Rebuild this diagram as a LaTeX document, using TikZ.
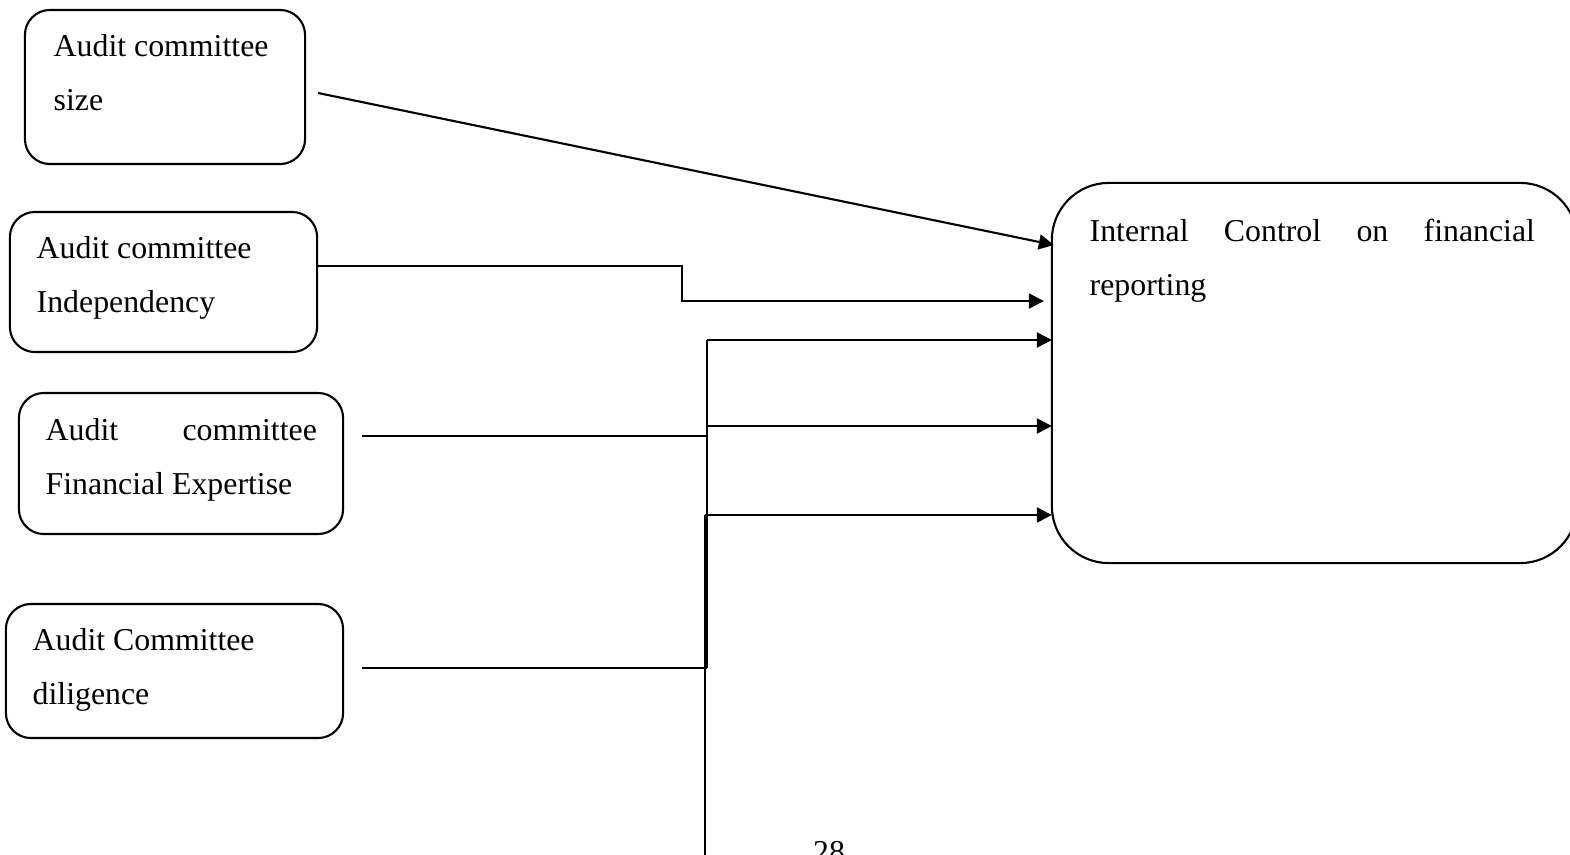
\documentclass[tikz,border=0pt]{standalone}
\usepackage{fontspec}
\setmainfont{Liberation Serif}
\usetikzlibrary{arrows.meta,calc}

\newcommand{\boxfont}{\fontsize{9.05pt}{15.6pt}\selectfont\hyphenpenalty=10000\exhyphenpenalty=10000\tolerance=9999}

\tikzset{
  factor/.style={draw, line width=0.6pt, rounded corners=0.25cm, inner sep=0pt, outer sep=0pt},
  outcome/.style={draw, line width=0.6pt, rounded corners=0.57cm, inner sep=0pt, outer sep=0pt},
  caption/.style={anchor=base west, inner sep=0pt, font=\boxfont, text width=#1, align=justify},
  caption/.default=4cm,
  wire/.style={line width=0.6pt},
  link/.style={wire, -{Triangle[length=0.15cm,width=0.15cm]}}
}

\begin{document}
\begin{tikzpicture}[x=0.01cm, y=-0.01cm]
  \useasboundingbox (0,0) rectangle (1570,854);
  \clip (0,0) rectangle (1570,854);

  % the four committee boxes
  \node[factor, minimum width=2.80cm, minimum height=1.54cm] (size) at (165,87) {};
  \node[factor, minimum width=3.07cm, minimum height=1.40cm] (indep) at (163.5,282) {};
  \node[factor, minimum width=3.24cm, minimum height=1.41cm] (expert) at (181,463.5) {};
  \node[factor, minimum width=3.37cm, minimum height=1.34cm] (dilig) at (174.5,671) {};
  % outcome box, runs off the right edge
  \node[outcome, minimum width=5.25cm, minimum height=3.80cm] (control) at (1314.5,373) {};

  \node[caption] (sizetxt) at (53,56) {Audit committee\\size};
  \node[caption] (indeptxt) at (36,258) {Audit committee\\Independency};
  \node[caption=2.71cm] (experttxt) at (45,440) {Audit committee Financial Expertise};
  \node[caption] (diligtxt) at (32,650) {Audit Committee\\diligence};
  \node[caption=4.45cm] (controltxt) at (1089,241) {Internal Control on financial reporting};

  % connectors
  \draw[link] ($(size.east)+(13,6)$) -- ($(control.west)+(2,-128)$);
  \draw[link] ($(indep.east)+(0,-16)$) -- ++(365,0) |- ($(control.west)+(-8,-72)$);

  \coordinate (busTop) at (707,340);
  \coordinate (busLow) at (707,668);
  \coordinate (busMid) at (707,426);
  \coordinate (bus2Top) at (705,515);
  \coordinate (bus2End) at (705,880);

  \draw[wire] ($(expert.east)+(19,-27.5)$) -- (busTop |- 0,436);
  \draw[wire] ($(dilig.east)+(19,-3)$) -- (busLow);
  \draw[wire] (busTop) -- (busLow);
  \draw[wire] (bus2Top) -- (bus2End);
  \draw[link] (busTop) -- (busTop -| control.west);
  \draw[link] (busMid) -- (busMid -| control.west);
  \draw[link] (bus2Top) -- (bus2Top -| control.west);

  \node[anchor=base, inner sep=0pt, font=\boxfont] (page) at (829,862) {28};
\end{tikzpicture}
\end{document}
